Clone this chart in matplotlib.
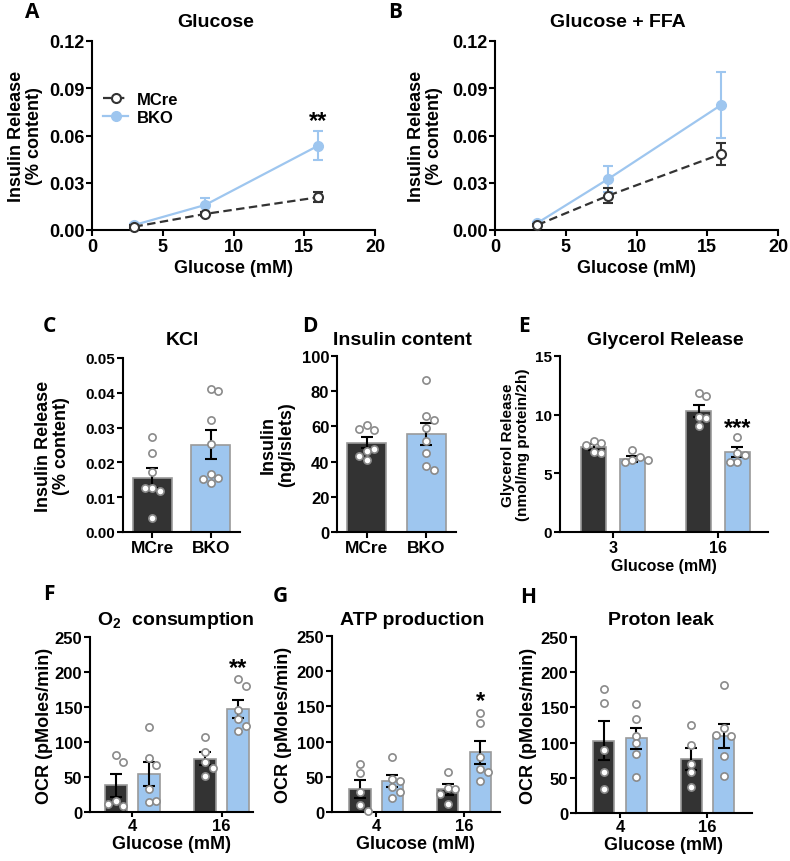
import numpy as np
import matplotlib
matplotlib.use("Agg")
import matplotlib.pyplot as plt
from matplotlib.lines import Line2D

plt.rcParams['font.family'] = ['Liberation Sans', 'DejaVu Sans']
plt.rcParams['font.weight'] = 'bold'
plt.rcParams['axes.labelweight'] = 'bold'
plt.rcParams['axes.linewidth'] = 1.5

W, H = 790, 862
DARK = '#333333'
BLUE = '#9ec6ef'
EDGE = '#9a9a9a'
PT_EDGE = '#8a8a8a'

# ---- A / B : insulin release vs glucose ----
glucose = [3, 8, 16]
a_mcre = [0.0021, 0.0102, 0.0208]
a_mcre_sem = [0.0008, 0.0010, 0.0032]
a_bko = [0.0032, 0.0159, 0.0536]
a_bko_sem = [0.0008, 0.0042, 0.0091]
b_mcre = [0.0032, 0.0218, 0.0483]
b_mcre_sem = [0.0008, 0.0049, 0.0069]
b_bko = [0.0045, 0.0324, 0.0795]
b_bko_sem = [0.0008, 0.0085, 0.0208]

# ---- C : KCl ----
genotypes = ['MCre', 'BKO']
c_mean = [0.0156, 0.0251]
c_sem = [0.0029, 0.0041]
c_pts_mcre = [0.0272, 0.0226, 0.0173, 0.0127, 0.0117, 0.0127, 0.0041]
c_pts_bko = [0.0411, 0.0406, 0.0322, 0.0252, 0.0166, 0.0156, 0.0152, 0.0140]

# ---- D : insulin content ----
d_mean = [50.8, 55.7]
d_sem = [3.0, 6.2]
d_pts_mcre = [61.0, 58.0, 58.7, 46.2, 47.0, 43.0, 40.9]
d_pts_bko = [86.2, 65.7, 63.4, 59.3, 51.7, 44.9, 37.3, 35.0]

# ---- E : glycerol release ----
e_groups = ['3', '16']
e_mcre = [7.27, 10.31]
e_mcre_sem = [0.25, 0.55]
e_bko = [6.25, 6.82]
e_bko_sem = [0.25, 0.40]
e_pts_mcre = [[7.76, 7.56, 7.4, 6.82, 6.76], [11.82, 11.59, 9.8, 9.74, 9.03]]
e_pts_bko = [[7.0, 6.4, 6.1, 5.95, 6.1], [8.13, 6.7, 6.56, 5.97, 5.97]]

# ---- F / G / H : Seahorse ----
ocr_groups = ['4', '16']
f_mcre = [38.1, 76.2]
f_mcre_sem = [16.2, 9.5]
f_bko = [54.8, 147.6]
f_bko_sem = [17.1, 12.7]
f_pts_mcre = [[81.9, 71.4, 15.2, 8.6, 11.0], [107, 86, 72, 63, 52]]
f_pts_bko = [[121, 77, 67.6, 32.4, 14.3, 15.2], [189.5, 179.5, 145.2, 132.4, 122.4, 115.7]]

g_mcre = [32.8, 32.3]
g_mcre_sem = [12.9, 7.7]
g_bko = [43.7, 84.6]
g_bko_sem = [8.8, 16.4]
g_pts_mcre = [[68, 56, 29, 10, 1.4], [57.5, 34.7, 32.3, 26, 10.9]]
g_pts_bko = [[78.4, 47.5, 44, 36.1, 28.5, 19.5], [140.7, 126.4, 77.5, 60.8, 57, 43.7]]

h_mcre = [102.4, 77.1]
h_mcre_sem = [27.6, 15.8]
h_bko = [106.2, 110.0]
h_bko_sem = [14.7, 17.1]
h_pts_mcre = [[175.7, 156.7, 90, 57.6, 33.8], [125.2, 96.7, 69, 57.6, 37.1]]
h_pts_bko = [[154.8, 133.8, 110, 99, 83.8, 51.4], [182.4, 120.5, 110, 111, 81.4, 52.9]]


def px_rect(left, right, top, bottom):
    return [left / W, 1 - bottom / H, (right - left) / W, (bottom - top) / H]


def style(ax, tsize):
    for s in ['top', 'right']:
        ax.spines[s].set_visible(False)
    ax.tick_params(direction='out', length=4, width=1.5, pad=1.5, labelsize=tsize)


def swarm(ax, x0, vals, d=7.6):
    pos = ax.get_position()
    x0l, x1l = ax.get_xlim()
    y0l, y1l = ax.get_ylim()
    sx = pos.width * W / (x1l - x0l)
    sy = pos.height * H / (y1l - y0l)
    placed = []
    xs = []
    for v in vals:
        yp = v * sy
        for k in [0, 1, -1, 2, -2, 3, -3]:
            xp = k * d
            if all((xp - a) ** 2 + (yp - b) ** 2 >= (d * 0.98) ** 2 for a, b in placed):
                break
        placed.append((xp, yp))
        xs.append(x0 + xp / sx)
    ax.plot(xs, vals, 'o', ms=5.2, mfc='white', mec=PT_EDGE, mew=1.2, zorder=5, clip_on=False)


def bar(ax, x, m, s, col, w, pts):
    ax.bar(x, m, w, color=col, edgecolor=EDGE, linewidth=1.2, zorder=2)
    swarm(ax, x, pts)
    ax.errorbar(x, m, yerr=s, color='black', capsize=4, elinewidth=1.5, capthick=1.5, zorder=4)


def stars(ax, x, top, txt, off=3):
    ax.annotate(txt, xy=(x, top), xytext=(0, off), textcoords='offset points',
                ha='center', va='baseline', fontsize=17, fontweight='bold')


def title(x, y, txt):
    fig.text(x / W, 1 - y / H, txt, ha='center', va='baseline', fontsize=14, fontweight='bold')


fig = plt.figure(figsize=(W / 100, H / 100), dpi=100)

# ---------------- A and B ----------------
for rect, mc, mcs, bk, bks, ttl, tx, lab_x, star in [
        (px_rect(92, 375, 42, 231), a_mcre, a_mcre_sem, a_bko, a_bko_sem, 'Glucose', 216, -0.173, True),
        (px_rect(495, 778, 42, 231), b_mcre, b_mcre_sem, b_bko, b_bko_sem, 'Glucose + FFA', 618, -0.184, False)]:
    ax = fig.add_axes(rect)
    ax.set_xlim(0, 20)
    ax.set_ylim(0, 0.12)
    ax.set_xticks([0, 5, 10, 15, 20])
    ax.set_yticks([0, 0.03, 0.06, 0.09, 0.12])
    ax.set_yticklabels(['0.00', '0.03', '0.06', '0.09', '0.12'])
    style(ax, 13)
    ax.errorbar(glucose, bk, yerr=bks, color=BLUE, lw=1.6, marker='o', ms=7, mfc=BLUE, mec=BLUE,
                capsize=3.5, elinewidth=1.5, capthick=1.5, zorder=3, clip_on=False)
    ax.errorbar(glucose, mc, yerr=mcs, color=DARK, lw=1.6, ls=(0, (3.8, 2)), marker='o', ms=6.5,
                mfc='white', mec=DARK, mew=1.5, capsize=3.5, elinewidth=1.5, capthick=1.5,
                zorder=4, clip_on=False)
    ax.set_xlabel('Glucose (mM)', fontsize=13)
    ax.xaxis.set_label_coords(0.5, -0.153)
    ax.set_ylabel('Insulin Release\n(% content)', fontsize=13, linespacing=1.1)
    ax.yaxis.set_label_coords(lab_x, 0.5)
    title(tx, 27, ttl)
    if star:
        stars(ax, 16, bk[2] + bks[2], '**')
        handles = [Line2D([], [], color=DARK, lw=1.6, ls=(0, (3.8, 2)), marker='o', ms=6.5,
                          mfc='white', mec=DARK, mew=1.5),
                   Line2D([], [], color=BLUE, lw=1.6, marker='o', ms=7, mfc=BLUE, mec=BLUE)]
        ax.legend(handles, genotypes, loc='upper left', bbox_to_anchor=(0.04, 0.73), frameon=False,
                  fontsize=12, handlelength=1.5, handletextpad=0.5, borderpad=0, borderaxespad=0,
                  labelspacing=0.15)

# ---------------- C and D ----------------
for rect, means, sems, pm, pb, ylim, yt, ytl, ylab, ttl, tx, lab_x, tsize in [
        (px_rect(123, 240, 359, 533), c_mean, c_sem, c_pts_mcre, c_pts_bko, (0, 0.05),
         [0, 0.01, 0.02, 0.03, 0.04, 0.05], ['0.00', '0.01', '0.02', '0.03', '0.04', '0.05'],
         'Insulin Release\n(% content)', 'KCl', 182, -0.453, 11),
        (px_rect(337, 456, 357, 533), d_mean, d_sem, d_pts_mcre, d_pts_bko, (0, 100),
         [0, 20, 40, 60, 80, 100], None, 'Insulin\n(ng/islets)', 'Insulin content', 402, -0.353, 12)]:
    ax = fig.add_axes(rect)
    ax.set_xlim(-0.5, 1.5)
    ax.set_ylim(*ylim)
    ax.set_yticks(yt)
    if ytl:
        ax.set_yticklabels(ytl)
    ax.set_xticks([0, 1])
    ax.set_xticklabels(genotypes)
    style(ax, tsize)
    ax.tick_params(axis='x', labelsize=12.5)
    bar(ax, 0, means[0], sems[0], DARK, 0.66, pm)
    bar(ax, 1, means[1], sems[1], BLUE, 0.66, pb)
    ax.set_ylabel(ylab, fontsize=13, linespacing=1.1)
    ax.yaxis.set_label_coords(lab_x, 0.5)
    title(tx, 345, ttl)

# ---------------- E ----------------
ax = fig.add_axes(px_rect(560, 768, 357, 533))
ax.set_xlim(-0.505, 1.476)
ax.set_ylim(0, 15)
ax.set_yticks([0, 5, 10, 15])
ax.set_xticks([0, 1])
ax.set_xticklabels(e_groups)
style(ax, 11)
ax.tick_params(axis='x', labelsize=11.5)
for i in range(2):
    bar(ax, i - 0.185, e_mcre[i], e_mcre_sem[i], DARK, 0.243, e_pts_mcre[i])
    bar(ax, i + 0.185, e_bko[i], e_bko_sem[i], BLUE, 0.243, e_pts_bko[i])
stars(ax, 1 + 0.185, max(e_pts_bko[1]), '***', off=2)
ax.set_xlabel('Glucose (mM)', fontsize=11.5)
ax.xaxis.set_label_coords(0.5, -0.148)
ax.set_ylabel('Glycerol Release\n(nmol/mg protein/2h)', fontsize=11, linespacing=1.1)
ax.yaxis.set_label_coords(-0.144, 0.5)
title(665, 345, 'Glycerol Release')

# ---------------- F, G, H ----------------
ocr_panels = [
    (px_rect(90, 253, 638, 813), (-0.473, 1.35), f_mcre, f_mcre_sem, f_bko, f_bko_sem,
     f_pts_mcre, f_pts_bko, r'O$_\mathregular{2}$  consumption', 176, -0.227, '**'),
    (px_rect(332, 500, 637, 813), (-0.503, 1.41), g_mcre, g_mcre_sem, g_bko, g_bko_sem,
     g_pts_mcre, g_pts_bko, 'ATP production', 412, -0.238, '*'),
    (px_rect(576, 752, 638, 814), (-0.504, 1.51), h_mcre, h_mcre_sem, h_bko, h_bko_sem,
     h_pts_mcre, h_pts_bko, 'Proton leak', 661, -0.222, None),
]
for rect, xl, mc, mcs, bk, bks, pm, pb, ttl, tx, lab_x, star in ocr_panels:
    ax = fig.add_axes(rect)
    ax.set_xlim(*xl)
    ax.set_ylim(0, 250)
    ax.set_yticks([0, 50, 100, 150, 200, 250])
    ax.set_xticks([0, 1])
    ax.set_xticklabels(ocr_groups)
    style(ax, 12)
    ax.tick_params(axis='x', labelsize=12, length=3.5, pad=0.5)
    for i in range(2):
        bar(ax, i - 0.185, mc[i], mcs[i], DARK, 0.243, pm[i])
        bar(ax, i + 0.185, bk[i], bks[i], BLUE, 0.243, pb[i])
    if star:
        stars(ax, 1 + 0.185, max(pb[1]), star, off=4)
    ax.set_xlabel('Glucose (mM)', fontsize=13)
    ax.xaxis.set_label_coords(0.5, -0.132)
    ax.set_ylabel('OCR (pMoles/min)', fontsize=13)
    ax.yaxis.set_label_coords(lab_x, 0.5)
    title(tx, 625, ttl)

# panel letters
for letter, x, y in [('A', 25, 18), ('B', 388, 18), ('C', 43, 332), ('D', 302, 332),
                     ('E', 518, 332), ('F', 43, 600), ('G', 273, 602), ('H', 520, 603)]:
    fig.text(x / W, 1 - y / H, letter, ha='left', va='baseline', fontsize=15,
             fontweight='bold', family=['Open Sans', 'DejaVu Sans'])

fig.savefig('out.png', dpi=100)
